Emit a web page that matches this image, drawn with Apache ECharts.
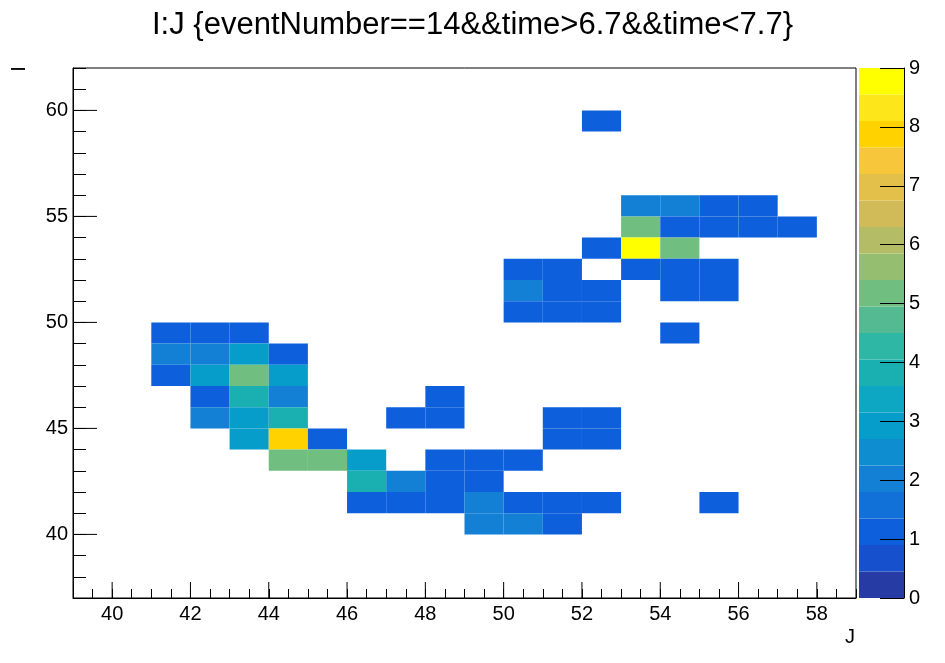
<!DOCTYPE html>
<html lang="en">
<head>
    <meta charset="UTF-8">
    <title>I:J</title>
    <style>
        html, body {margin: 0; padding: 0; background: #fff;}
        #chart {width: 945px; height: 663px;}
    </style>
</head>
<body>
<div id="chart"></div>
<script src="https://cdn.jsdelivr.net/npm/echarts@6/dist/echarts.min.js"></script>
<script type="text/javascript">
    // histogram rows: the I bin, then the J bins filled in that row and their counts
    var rowI = [59, 55, 54, 53, 52, 51, 50, 49, 48, 47, 46, 45, 44, 43, 42, 41, 40];
    var rowJ = [
        [52],
        [53, 54, 55, 56],
        [53, 54, 55, 56, 57],
        [52, 53, 54],
        [50, 51, 53, 54, 55],
        [50, 51, 52, 54, 55],
        [50, 51, 52],
        [41, 42, 43, 54],
        [41, 42, 43, 44],
        [41, 42, 43, 44],
        [42, 43, 44, 48],
        [42, 43, 44, 47, 48, 51, 52],
        [43, 44, 45, 51, 52],
        [44, 45, 46, 48, 49, 50],
        [46, 47, 48, 49],
        [46, 47, 48, 49, 50, 51, 52, 55],
        [49, 50, 51]
    ];
    var rowCounts = [
        [1],
        [2, 2, 1, 1],
        [5, 1, 1, 1, 1],
        [1, 9, 5],
        [1, 1, 1, 1, 1],
        [2, 1, 1, 1, 1],
        [1, 1, 1],
        [1, 1, 1, 1],
        [2, 2, 3, 1],
        [1, 3, 5, 3],
        [1, 4, 2, 1],
        [2, 3, 4, 1, 1, 1, 1],
        [3, 8, 1, 1, 1],
        [5, 5, 3, 1, 1, 1],
        [4, 2, 1, 1],
        [1, 1, 1, 2, 1, 1, 1, 1],
        [2, 2, 1]
    ];

    // long ticks (labelled)
    var xMajorTicks = [40, 42, 44, 46, 48, 50, 52, 54, 56, 58];
    var yMajorTicks = [40, 45, 50, 55, 60];

    // 20 colour levels of the palette, 0..9
    var levels = [0, 0.45, 0.9, 1.35, 1.8, 2.25, 2.7, 3.15, 3.6, 4.05, 4.5,
        4.95, 5.4, 5.85, 6.3, 6.75, 7.2, 7.65, 8.1, 8.55, 9];
    var levelColors = ['#263ba4', '#1650cc', '#0d5fdc', '#1271d9', '#1380d6', '#0e8ed1', '#069dcb',
        '#0da7c3', '#1aafb0', '#2eb7a4', '#53ba91', '#70be80', '#96be71', '#b4bd65',
        '#d1bb59', '#e3c04a', '#f7c63a', '#ffd200', '#fde61a', '#ffff00'];

    var font = "'Liberation Sans', Arial, sans-serif";

    var cells = [];
    for (var r = 0; r < rowI.length; r++) {
        for (var k = 0; k < rowJ[r].length; k++) {
            cells.push([rowJ[r][k], rowI[r], rowCounts[r][k]]);
        }
    }

    var bands = [];
    var pieces = [];
    for (var b = 0; b < levelColors.length; b++) {
        bands.push([levels[b], levels[b + 1], b]);
        if (b == levelColors.length - 1) {
            pieces.push({gte: levels[b], lte: levels[b + 1], color: levelColors[b]});
        } else {
            pieces.push({gte: levels[b], lt: levels[b + 1], color: levelColors[b]});
        }
    }

    function renderCell(params, api) {
        var p0 = api.coord([api.value(0), api.value(1) + 1]);
        var p1 = api.coord([api.value(0) + 1, api.value(1)]);
        return {
            type: 'rect',
            shape: {x: p0[0], y: p0[1], width: p1[0] - p0[0], height: p1[1] - p0[1]},
            style: {fill: api.visual('color')}
        };
    }

    function renderBand(params, api) {
        var p0 = api.coord([0, api.value(1)]);
        var p1 = api.coord([1, api.value(0)]);
        return {
            type: 'rect',
            shape: {x: p0[0], y: p0[1], width: p1[0] - p0[0], height: p1[1] - p0[1]},
            style: {fill: levelColors[api.value(2)]}
        };
    }

    function renderXTick(params, api) {
        var p = api.coord([api.value(0), 37]);
        return {
            type: 'line',
            shape: {x1: p[0], y1: p[1], x2: p[0], y2: p[1] - 16},
            style: {stroke: '#000', lineWidth: 1}
        };
    }

    function renderYTick(params, api) {
        var p = api.coord([39, api.value(0)]);
        return {
            type: 'line',
            shape: {x1: p[0], y1: p[1], x2: p[0] + 24, y2: p[1]},
            style: {stroke: '#000', lineWidth: 1}
        };
    }

    var chart = echarts.init(document.getElementById('chart'));
    var option = {
        backgroundColor: '#fff',
        animation: false,
        textStyle: {fontFamily: font},
        title: {
            text: 'I:J {eventNumber==14&&time>6.7&&time<7.7}',
            left: 'center',
            top: 5,
            textStyle: {fontFamily: font, fontSize: 31, fontWeight: 'normal', color: '#000'}
        },
        grid: [
            {left: 73, right: 89, top: 68, bottom: 65, show: true, borderColor: '#000', borderWidth: 1},
            {left: 859, width: 45, top: 68, bottom: 65}
        ],
        xAxis: [
            {
                type: 'value', gridIndex: 0, min: 39, max: 59, interval: 0.5,
                axisLine: {onZero: false, lineStyle: {color: '#000'}},
                axisTick: {inside: true, length: 9, lineStyle: {color: '#000'}},
                axisLabel: {
                    color: '#000', fontSize: 20, fontFamily: font, margin: 6,
                    formatter: function (v) {
                        return v % 2 == 0 ? String(v) : '';
                    }
                },
                splitLine: {show: false}
            },
            {type: 'value', gridIndex: 1, min: 0, max: 1, show: false}
        ],
        yAxis: [
            {
                type: 'value', gridIndex: 0, min: 37, max: 62, interval: 1,
                axisLine: {onZero: false, lineStyle: {color: '#000'}},
                axisTick: {inside: true, length: 13, lineStyle: {color: '#000'}},
                axisLabel: {
                    color: '#000', fontSize: 20, fontFamily: font, margin: 5,
                    formatter: function (v) {
                        return v % 5 == 0 ? String(v) : '';
                    }
                },
                splitLine: {show: false}
            },
            {
                type: 'value', gridIndex: 1, min: 0, max: 9, interval: 1, position: 'right', z: 10,
                axisLine: {show: true, onZero: false, lineStyle: {color: '#000'}},
                axisTick: {inside: true, length: 24, lineStyle: {color: '#000'}},
                axisLabel: {color: '#000', fontSize: 20, fontFamily: font, margin: 5},
                splitLine: {show: false}
            }
        ],
        visualMap: {
            type: 'piecewise',
            show: false,
            seriesIndex: 0,
            dimension: 2,
            pieces: pieces
        },
        graphic: [
            {type: 'text', x: 19, y: 69, rotation: Math.PI / 2,
                style: {text: 'I', fontSize: 20, fontFamily: font, fill: '#000', align: 'center', verticalAlign: 'middle'}},
            {type: 'text', x: 850, y: 637,
                style: {text: 'J', fontSize: 20, fontFamily: font, fill: '#000', align: 'center', verticalAlign: 'middle'}}
        ],
        series: [
            {
                name: 'I:J', type: 'custom', xAxisIndex: 0, yAxisIndex: 0,
                renderItem: renderCell, data: cells, encode: {x: 0, y: 1}, z: 2
            },
            {
                type: 'custom', xAxisIndex: 1, yAxisIndex: 1,
                renderItem: renderBand, data: bands, encode: {y: [0, 1]}, z: 1, silent: true
            },
            {
                type: 'custom', xAxisIndex: 0, yAxisIndex: 0,
                renderItem: renderXTick, data: xMajorTicks, encode: {x: 0}, z: 3, silent: true
            },
            {
                type: 'custom', xAxisIndex: 0, yAxisIndex: 0,
                renderItem: renderYTick, data: yMajorTicks, encode: {y: 0}, z: 3, silent: true
            }
        ]
    };
    chart.setOption(option);
</script>
</body>
</html>
